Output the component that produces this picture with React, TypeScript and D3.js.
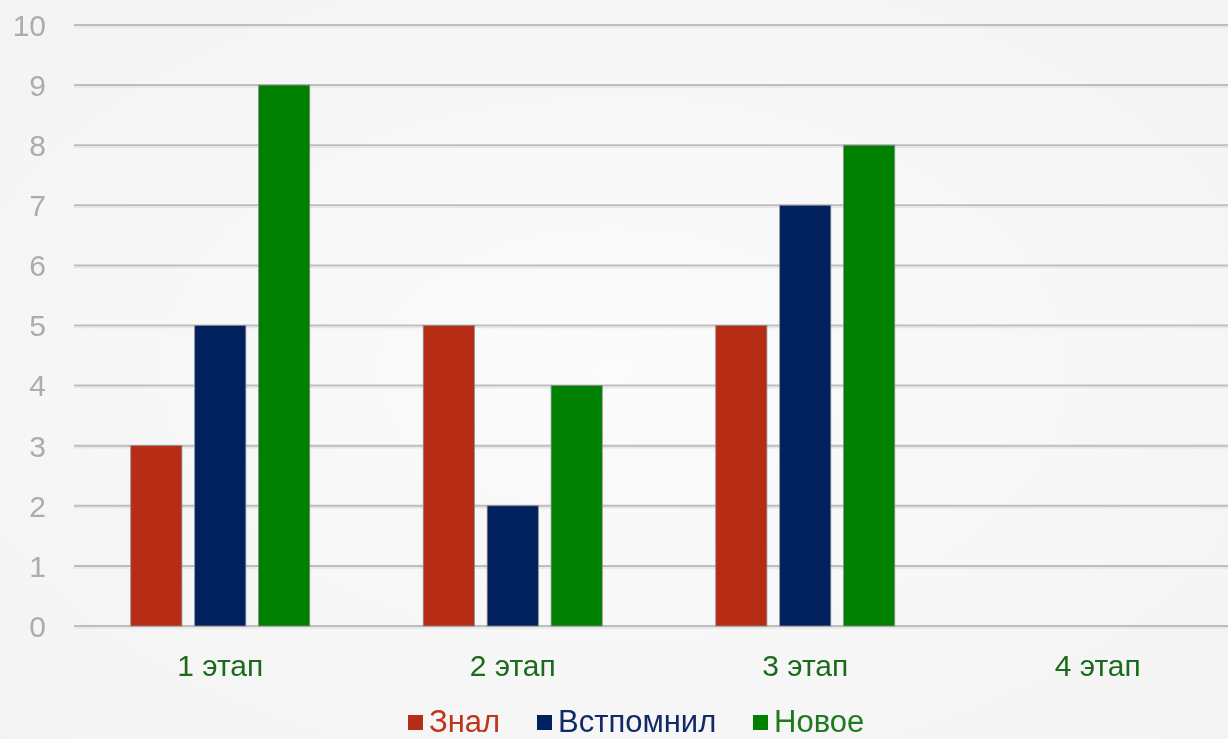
import React from "react";
import * as d3 from "d3";

const categories = ["1 этап", "2 этап", "3 этап", "4 этап"];
const seriesNames = ["Знал", "Встпомнил", "Новое"];
const znal = [3, 5, 5, 0];
const vspomnil = [5, 2, 7, 0];
const novoe = [9, 4, 8, 0];
const yTicks = [0, 1, 2, 3, 4, 5, 6, 7, 8, 9, 10];

const colors = ["#B72C15", "#00205E", "#008000"];
const legendTextColors = ["#C0341C", "#0F2A66", "#1E7A1E"];

const W = 1228;
const H = 739;
const left = 74;
const right = 1244;
const top = 25;
const bottom = 626;
const font = "'Liberation Sans', Arial, sans-serif";

export default function App() {
  const series = [znal, vspomnil, novoe];
  const x = d3.scaleBand<string>().domain(categories).range([left, right]).paddingInner(0).paddingOuter(0);
  const inner = d3.scaleBand<string>().domain(seriesNames).range([0, 179]).paddingInner(0.2).paddingOuter(0);
  const y = d3.scaleLinear().domain([0, 10]).range([bottom, top]);
  const groupOffset = (x.bandwidth() - 179) / 2;

  const legendX = [408, 537, 753];

  return (
    <svg
      width={W}
      height={H}
      style={{ position: "fixed", top: 0, left: 0, display: "block" }}
      fontFamily={font}
    >
      <defs>
        <radialGradient id="bg" cx="0.5" cy="0.5" r="0.75">
          <stop offset="0%" stopColor="#fbfbfb" />
          <stop offset="100%" stopColor="#f3f3f3" />
        </radialGradient>
      </defs>
      <rect x={0} y={0} width={W} height={H} fill="url(#bg)" />
      {yTicks.map((t) => (
        <g key={t}>
          <line x1={left} x2={W} y1={y(t)} y2={y(t)} stroke="#bdbdbd" strokeWidth={2} />
          <line x1={left} x2={W} y1={y(t) + 2} y2={y(t) + 2} stroke="#e6e6e6" strokeWidth={1.5} />
          <text x={46} y={y(t)} dy="0.36em" textAnchor="end" fontSize={30} fill="#acacac">
            {t}
          </text>
        </g>
      ))}
      {categories.map((c, ci) => (
        <g key={c}>
          {series.map((s, si) => {
            const v = s[ci];
            if (!v) return null;
            const bx = (x(c) as number) + groupOffset + (inner(seriesNames[si]) as number);
            return (
              <rect
                key={si}
                x={bx}
                y={y(v)}
                width={inner.bandwidth()}
                height={y(0) - y(v)}
                fill={colors[si]}
                stroke="#8a8a8a"
                strokeWidth={0.8}
              />
            );
          })}
          <text
            x={(x(c) as number) + x.bandwidth() / 2}
            y={665}
            dy="0.36em"
            textAnchor="middle"
            fontSize={30}
            fill="#1C6B1C"
          >
            {c}
          </text>
        </g>
      ))}
      {seriesNames.map((n, i) => (
        <g key={n} transform={`translate(${legendX[i]},721)`}>
          <rect x={0} y={-6} width={15} height={15} fill={colors[i]} />
          <text x={21} y={0} dy="0.36em" fontSize={31} fill={legendTextColors[i]}>
            {n}
          </text>
        </g>
      ))}
    </svg>
  );
}
